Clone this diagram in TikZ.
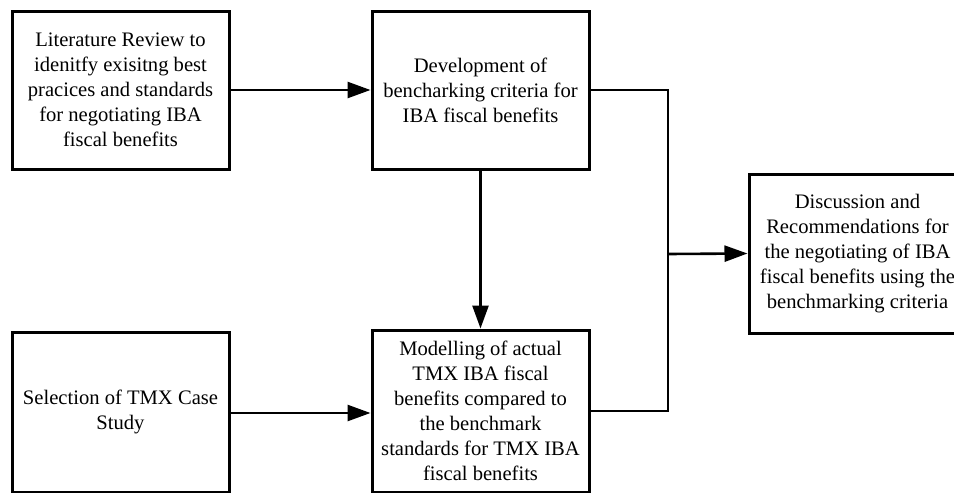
\documentclass[tikz,border=0pt]{standalone}
\usepackage{fontspec}
\setmainfont{Liberation Serif}
\usetikzlibrary{arrows.meta}
\begin{document}
\begin{tikzpicture}[x=1pt,y=-1pt,
  box/.style={draw=black, line width=3pt, fill=white, minimum width=217pt, align=center,
    font=\fontsize{20.6pt}{25pt}\selectfont, inner sep=0pt},
  conn/.style={draw=black, line width=2.6pt, line join=miter},
  arr/.style={conn, -{Triangle[length=23pt,width=16pt]}}]
\useasboundingbox (0,0) rectangle (954,493);
\begin{scope}
\clip (0,0) rectangle (954,493);
\node[box, minimum height=158pt] (A) at (120.5,90) {Literature Review to\\idenitfy exisitng best\\pracices and standards\\for negotiating IBA\\fiscal benefits};
\node[box, minimum height=158pt] (B) at (480.5,90) {Development of\\bencharking criteria for\\IBA fiscal benefits};
\node[box, minimum height=160pt] (C) at (120.5,412) {Selection of TMX Case\\Study};
\node[box, minimum height=162pt] (D) at (480.5,411) {Modelling of actual\\TMX IBA fiscal\\benefits compared to\\the benchmark\\standards for TMX IBA\\fiscal benefits};
\node[box, minimum height=159pt] (E) at (857.5,253.5) {Discussion and\\Recommendations for\\the negotiating of IBA\\fiscal benefits using the\\benchmarking criteria};
\coordinate (J) at (668,254);
\draw[arr] (A) -- (B);
\draw[arr] (B) -- (D);
\draw[arr] (C.east |- 0,413) -- (D.west |- 0,413);
\draw[conn] (B.east) -| (J);
\draw[conn] (D.east) -| (J);
\draw[arr] (J) -- (E.west);
\end{scope}
\end{tikzpicture}
\end{document}
